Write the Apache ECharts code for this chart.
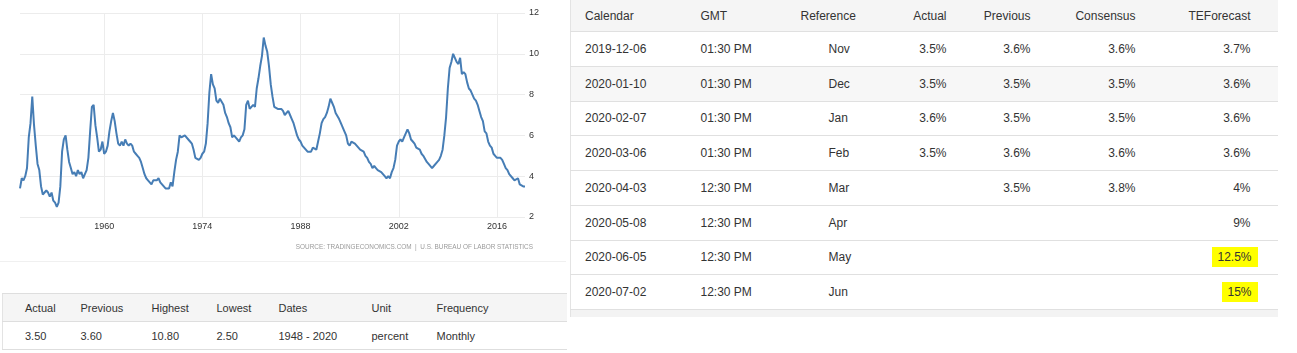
<!DOCTYPE html>
<html>
<head>
<meta charset="utf-8">
<script src="https://cdn.jsdelivr.net/npm/echarts@6/dist/echarts.min.js"></script>
<style>
  body { margin: 0; background: #fff; font-family: Arial, "Liberation Sans", sans-serif; color: #333; }
  #page { position: relative; width: 1297px; height: 353px; overflow: hidden; }
  #chart { position: absolute; left: 0; top: 0; width: 566px; height: 261px; border-bottom: 1px solid #f0f0f0; }
  .tbl { border-collapse: collapse; table-layout: fixed; position: absolute; font-size: 12px; }
  #summary { left: 2px; top: 293px; width: 564px; font-size: 11px; border-left: 1px solid #e3e3e3; }
  #summary th, #summary td { font-weight: normal; text-align: left; padding: 0 0 0 22px; height: 27px; border-top: 1px solid #dedede; border-bottom: 1px solid #dedede; }
  #summary th { background: #f5f5f5; }
  #calendar { left: 570px; top: 0; border-left: 1px solid #e3e3e3; }
  #calendar th, #calendar td { font-weight: normal; padding: 0 10px; white-space: nowrap; }
  #calendar th { background: #f5f5f5; height: 31px; text-align: left; border-bottom: 1px solid #e0e0e0; }
  #calendar td { height: 33.75px; border-bottom: 1px solid #e0e0e0; }
  #calendar tr.alt td { background: #f7f7f7; }
  #calendar .c0 { padding-left: 14px; }
  #calendar td.ref { padding-left: 38px; }
  #calendar .num { text-align: right; }
  #calendar .last { padding-right: 27px; }
  #calendar tfoot td { height: 7px; background: #f3f3f3; border: none; }
  .hl { background: #ffff00; padding: 3px 6px 3px 5px; margin-right: -7px; }
</style>
</head>
<body>
<div id="page">
  <div id="chart"></div>
  <table id="summary" class="tbl"></table>
  <table id="calendar" class="tbl"></table>
</div>
<script>
// quarterly readings of the unemployment rate, 1948 Q1 .. 2020 Q1
const firstYear = 1948;
const rate = [
  3.4, 3.9, 3.8, 4.0,   4.4, 5.9, 6.6, 7.9,   6.5, 5.5, 4.6, 4.3,   3.5, 3.1, 3.2, 3.3,
  3.2, 3.0, 3.2, 2.8,   2.7, 2.5, 2.7, 3.5,   5.2, 5.8, 6.0, 5.3,   4.7, 4.4, 4.1, 4.2,
  4.0, 4.3, 4.1, 4.2,   3.9, 4.1, 4.3, 4.9,   6.2, 7.4, 7.5, 6.5,   5.9, 5.2, 5.3, 5.7,
  5.1, 5.2, 5.5, 6.2,   6.7, 7.1, 6.7, 6.1,   5.6, 5.5, 5.7, 5.5,   5.8, 5.6, 5.5, 5.6,
  5.5, 5.2, 5.1, 5.0,   4.9, 4.7, 4.4, 4.1,   3.9, 3.8, 3.8, 3.6,   3.8, 3.8, 3.8, 3.9,
  3.7, 3.6, 3.5, 3.4,   3.4, 3.4, 3.7, 3.5,   4.2, 4.8, 5.2, 6.0,   5.9, 5.9, 6.0, 6.0,
  5.8, 5.7, 5.6, 5.3,   4.9, 4.9, 4.8, 4.9,   5.1, 5.2, 5.6, 6.6,   8.1, 9.0, 8.5, 8.3,
  7.7, 7.6, 7.8, 7.8,   7.5, 7.1, 6.9, 6.6,   6.4, 5.9, 6.0, 5.9,   5.9, 5.7, 5.9, 6.0,
  6.3, 7.5, 7.7, 7.3,   7.4, 7.5, 7.4, 8.3,   8.8, 9.4, 9.9, 10.8,  10.4, 10.1, 9.4, 8.5,
  7.9, 7.4, 7.4, 7.3,   7.3, 7.3, 7.2, 7.0,   7.0, 7.2, 7.0, 6.8,   6.6, 6.3, 6.0, 5.8,
  5.7, 5.5, 5.5, 5.3,   5.2, 5.2, 5.2, 5.4,   5.4, 5.3, 5.7, 6.1,   6.6, 6.8, 6.9, 7.1,
  7.4, 7.8, 7.6, 7.4,   7.1, 7.1, 6.8, 6.6,   6.6, 6.2, 6.0, 5.6,   5.5, 5.7, 5.7, 5.6,
  5.5, 5.5, 5.3, 5.3,   5.2, 5.0, 4.9, 4.7,   4.6, 4.4, 4.5, 4.4,   4.3, 4.3, 4.2, 4.1,
  4.0, 3.9, 4.0, 3.9,   4.2, 4.4, 4.8, 5.5,   5.7, 5.8, 5.7, 5.9,   5.9, 6.3, 6.1, 5.8,
  5.7, 5.6, 5.4, 5.4,   5.3, 5.1, 5.0, 5.0,   4.7, 4.6, 4.6, 4.4,   4.5, 4.5, 4.7, 4.8,
  5.0, 5.3, 6.0, 6.9,   8.3, 9.3, 9.6, 10.0,  9.8, 9.6, 9.5, 9.8,   9.0, 9.1, 9.0, 8.6,
  8.3, 8.2, 8.0, 7.8,   7.7, 7.5, 7.2, 6.9,   6.7, 6.2, 6.1, 5.7,   5.5, 5.4, 5.1, 5.0,
  4.9, 4.9, 4.9, 4.8,   4.6, 4.4, 4.3, 4.1,   4.1, 3.9, 3.8, 3.8,   3.9, 3.6, 3.6, 3.5,
  3.5
];
const labelYears = [1960, 1974, 1988, 2002, 2016];
const yTicks = { min: 2, max: 12, step: 2 };
const sourceText = 'SOURCE: TRADINGECONOMICS.COM  |  U.S. BUREAU OF LABOR STATISTICS';

// summary table under the chart
const summaryHead = ['Actual', 'Previous', 'Highest', 'Lowest', 'Dates', 'Unit', 'Frequency'];
const summaryRow = ['3.50', '3.60', '10.80', '2.50', '1948 - 2020', 'percent', 'Monthly'];

// release calendar
const calHead = ['Calendar', 'GMT', 'Reference', 'Actual', 'Previous', 'Consensus', 'TEForecast'];
const calDates = ['2019-12-06', '2020-01-10', '2020-02-07', '2020-03-06', '2020-04-03', '2020-05-08', '2020-06-05', '2020-07-02'];
const calTimes = ['01:30 PM', '01:30 PM', '01:30 PM', '01:30 PM', '12:30 PM', '12:30 PM', '12:30 PM', '12:30 PM'];
const calRefs = ['Nov', 'Dec', 'Jan', 'Feb', 'Mar', 'Apr', 'May', 'Jun'];
const calActual = ['3.5%', '3.5%', '3.6%', '3.5%', '', '', '', ''];
const calPrevious = ['3.6%', '3.5%', '3.5%', '3.6%', '3.5%', '', '', ''];
const calConsensus = ['3.6%', '3.5%', '3.5%', '3.6%', '3.8%', '', '', ''];
const calForecast = ['3.7%', '3.6%', '3.6%', '3.6%', '4%', '9%', '12.5%', '15%'];
const highlighted = ['12.5%', '15%'];

// build the quarter categories
let quarters = [];
for (let i = 0; i < rate.length; i++) {
  let y = firstYear + Math.floor(i / 4);
  let m = (i % 4) * 3 + 1;
  quarters.push(y + '-' + (m < 10 ? '0' + m : m));
}

function isLabelQuarter(index, value) {
  return value.slice(5) === '01' && labelYears.indexOf(+value.slice(0, 4)) >= 0;
}

let myChart = echarts.init(document.getElementById('chart'));
let option = {
  animation: false,
  grid: { left: 20, right: 41, top: 13, bottom: 44 },
  xAxis: {
    type: 'category',
    data: quarters,
    boundaryGap: false,
    axisLine: { show: false },
    axisTick: { show: false },
    axisLabel: {
      interval: isLabelQuarter,
      formatter: v => v.slice(0, 4),
      fontSize: 9,
      color: '#333',
      margin: 5,
      fontFamily: 'Arial'
    },
    splitLine: {
      show: true,
      interval: isLabelQuarter,
      lineStyle: { color: '#ececec', width: 1 }
    }
  },
  yAxis: {
    type: 'value',
    position: 'right',
    min: yTicks.min,
    max: yTicks.max,
    interval: yTicks.step,
    axisLine: { show: false },
    axisTick: { show: false },
    axisLabel: { fontSize: 9, color: '#333', margin: 4, fontFamily: 'Arial' },
    splitLine: { lineStyle: { color: '#ececec', width: 1 } }
  },
  series: [
    {
      type: 'line',
      data: rate,
      showSymbol: false,
      lineStyle: { color: '#467db5', width: 2 }
    }
  ],
  graphic: [
    {
      type: 'text',
      right: 33,
      top: 244,
      style: { text: sourceText, fontSize: 6.4, fill: '#9a9a9a', fontFamily: 'Arial' }
    }
  ]
};
myChart.setOption(option);

// summary table
let sumHtml = '<colgroup>';
[56, 71, 65, 62, 93, 65, 152].forEach(w => { sumHtml += '<col style="width:' + w + 'px">'; });
sumHtml += '</colgroup><tr>';
summaryHead.forEach(h => { sumHtml += '<th>' + h + '</th>'; });
sumHtml += '</tr><tr>';
summaryRow.forEach(v => { sumHtml += '<td>' + v + '</td>'; });
sumHtml += '</tr>';
document.getElementById('summary').innerHTML = sumHtml;

// calendar table
let calHtml = '<colgroup>';
[120, 100, 90, 76, 84, 105, 132].forEach(w => { calHtml += '<col style="width:' + w + 'px">'; });
calHtml += '</colgroup><thead><tr>';
calHead.forEach((h, i) => {
  let cls = i === 0 ? 'c0' : (i >= 3 ? 'num' : '');
  if (i === 6) cls += ' last';
  calHtml += '<th class="' + cls + '">' + h + '</th>';
});
calHtml += '</tr></thead><tbody>';
calDates.forEach((d, r) => {
  let fc = calForecast[r];
  if (highlighted.indexOf(fc) >= 0) fc = '<span class="hl">' + fc + '</span>';
  calHtml += '<tr' + (r === 1 ? ' class="alt"' : '') + '>' +
    '<td class="c0">' + d + '</td>' +
    '<td>' + calTimes[r] + '</td>' +
    '<td class="ref">' + calRefs[r] + '</td>' +
    '<td class="num">' + calActual[r] + '</td>' +
    '<td class="num">' + calPrevious[r] + '</td>' +
    '<td class="num">' + calConsensus[r] + '</td>' +
    '<td class="num last">' + fc + '</td></tr>';
});
calHtml += '</tbody><tfoot><tr><td colspan="7"></td></tr></tfoot>';
document.getElementById('calendar').innerHTML = calHtml;
</script>
</body>
</html>
